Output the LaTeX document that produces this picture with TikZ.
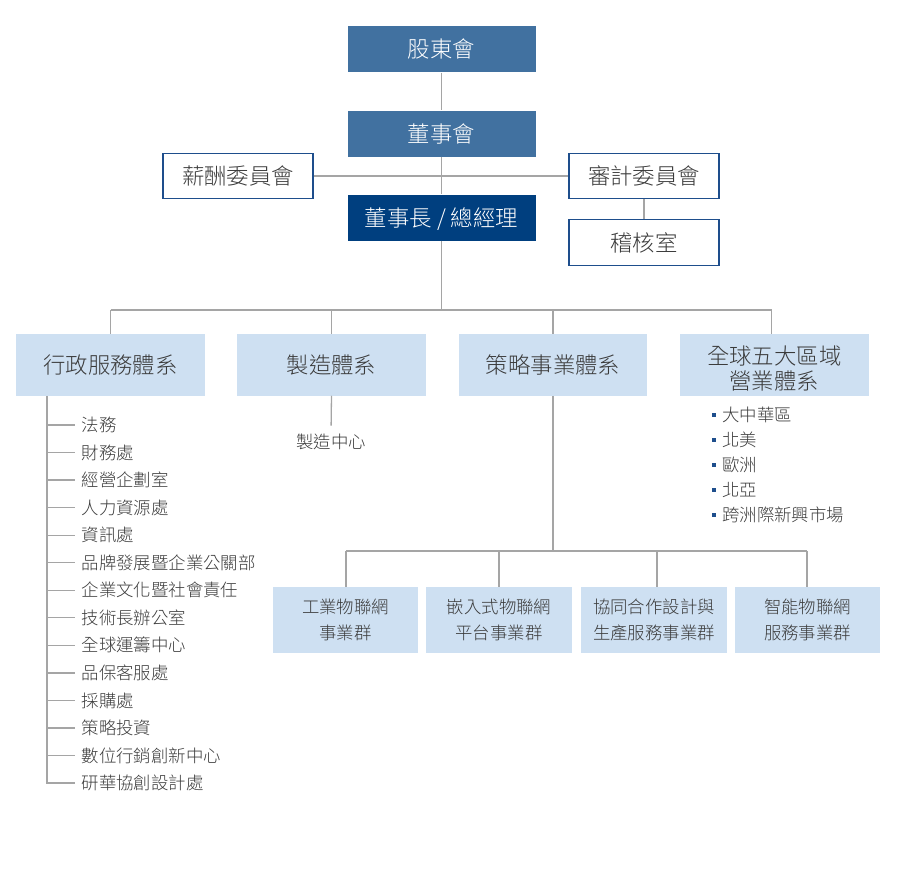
\documentclass[tikz,border=0pt]{standalone}
\usepackage{fontspec}
\newfontfamily\cjk{Noto Sans CJK TC Light}
\definecolor{midblue}{HTML}{4171A0}
\definecolor{darkblue}{HTML}{003F7F}
\definecolor{lightblue}{HTML}{CEE0F2}
\definecolor{bordblue}{HTML}{1E4E8C}
\definecolor{linegray}{HTML}{A5A5A5}
\definecolor{txtgray}{HTML}{3A3A3A}
\tikzset{
  big/.style={font=\cjk\fontsize{22.4}{25}\selectfont},
  small/.style={font=\cjk\fontsize{17.4}{25.5}\selectfont},
  onebig/.style={text height=19.7pt, text depth=2.7pt},
  onesmall/.style={text height=15.3pt, text depth=2.1pt},
  topbox/.style={big, onebig, fill=midblue, text=white, minimum width=188pt, minimum height=46pt, inner sep=0pt},
  ceobox/.style={topbox, fill=darkblue},
  combox/.style={big, onebig, fill=white, draw=bordblue, line width=1.6pt, text=txtgray, minimum width=150pt, minimum height=45pt, inner sep=0pt},
  divbox/.style={big, fill=lightblue, text=txtgray, minimum width=188.5pt, minimum height=61.5pt, inner sep=0pt, align=center},
  grpbox/.style={small, fill=lightblue, text=txtgray, minimum width=145.5pt, minimum height=66pt, inner sep=0pt, align=center},
  item/.style={small, onesmall, text=txtgray, inner sep=0pt, anchor=west},
  bul/.style={fill=bordblue, minimum size=4pt, inner sep=0pt},
  conn/.style={draw=linegray, line width=1.3pt},
}
\begin{document}
\begin{tikzpicture}[x=1pt,y=-1pt]
\useasboundingbox (0,0) rectangle (900,875);
% top
\node[topbox] (sh) at (441.5,49.5) {股東會};
\node[topbox] (bd) at (441.5,133.5) {董事會};
\node[ceobox] (ceo) at (441.5,217.5) {董事長 / 總經理};
\node[combox] (pay) at (238,176) {薪酬委員會};
\node[combox] (aud) at (644,176) {審計委員會};
\node[combox, minimum height=46pt] (ia) at (644,242.5) {稽核室};
% divisions
\node[divbox, onebig] (adm) at (110.5,364.8) {行政服務體系};
\node[divbox, onebig] (mfg) at (331.5,364.8) {製造體系};
\node[divbox, onebig] (str) at (553,364.8) {策略事業體系};
\node[divbox] (glb) at (774.3,364.8) {};
\node[big, text=txtgray, align=center, inner sep=0pt] (glbt) at ([yshift=-4pt]glb.center) {全球五大區域\\營業體系};
% groups
\node[grpbox] (g1) at (345.5,620) {工業物聯網\\事業群};
\node[grpbox] (g2) at (499,620) {嵌入式物聯網\\平台事業群};
\node[grpbox] (g3) at (654,620) {協同合作設計與\\生產服務事業群};
\node[grpbox] (g4) at (807.5,620) {智能物聯網\\服務事業群};
% manufacturing center
\node[item, anchor=center] (mc) at (331,442) {製造中心};
% regions
\foreach \i/\t/\y in {1/大中華區/415,2/北美/440.3,3/歐洲/465.3,4/北亞/490.3,5/跨洲際新興市場/515.3}{
  \node[bul] (b\i) at (713.5,\y) {};
  \node[item] (r\i) at (722,\y) {\t};
}
% admin list
\foreach \i/\t in {1/法務,2/財務處,3/經營企劃室,4/人力資源處,5/資訊處,6/品牌發展暨企業公關部,7/企業文化暨社會責任,8/技術長辦公室,9/全球運籌中心,10/品保客服處,11/採購處,12/策略投資,13/數位行銷創新中心,14/研華協創設計處}{
  \node[item] (l\i) at (81.5,{425+(\i-1)*27.54}) {\t};
}
% connectors
\coordinate (busL) at (110.5,310);
\coordinate (busR) at (771.5,310);
\coordinate (bus2L) at (346,551);
\coordinate (bus2R) at (807,551);
\coordinate (bus2c) at (657,551);
\draw[conn] (sh.south) -- (bd.north);
\draw[conn] (bd.south) -- (ceo.north);
\draw[conn] (pay.east) -- (aud.west);
\draw[conn] (aud.south) -- (ia.north);
\draw[conn] (ceo.south) -- (ceo.south |- busL);
\draw[conn] (busL) -- (busR);
\draw[conn] (busL) -- (busL |- adm.north);
\draw[conn] (mfg.north |- busL) -- (mfg.north);
\draw[conn] (str.north |- busL) -- (str.north);
\draw[conn] (busR) -- (busR |- glb.north);
\draw[conn, shorten >=7.5pt] (mfg.south) -- (mc.north);
\draw[conn] (str.south) -- (str.south |- bus2L);
\draw[conn] (bus2L) -- (bus2R);
\draw[conn] (bus2L) -- (bus2L |- g1.north);
\draw[conn] (g2.north |- bus2L) -- (g2.north);
\draw[conn] (bus2c) -- (bus2c |- g3.north);
\draw[conn] (bus2R) -- (bus2R |- g4.north);
\coordinate (lvtop) at ([xshift=31pt]adm.south west);
\draw[conn] (lvtop) |- ([xshift=-6.5pt]l14.west);
\foreach \i in {1,...,13}{
  \draw[conn] (lvtop |- l\i.west) -- ([xshift=-6.5pt]l\i.west);
}
\end{tikzpicture}
\end{document}
